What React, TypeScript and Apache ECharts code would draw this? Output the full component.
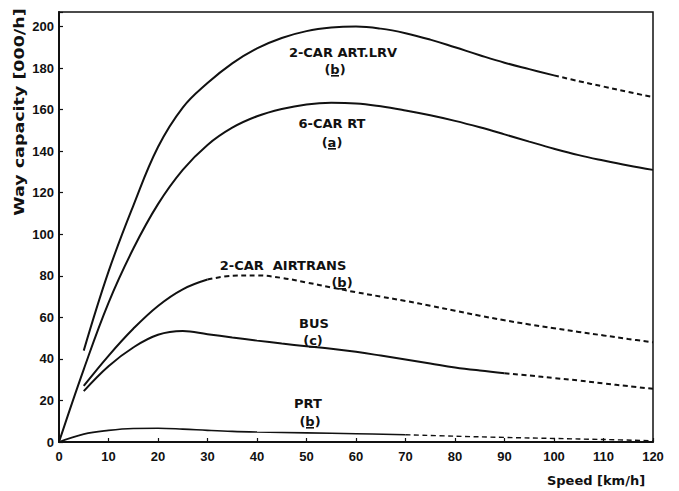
import React, { useEffect, useRef } from "react";
import * as echarts from "echarts";

// Speed [km/h] vs way capacity [000/h]
const lrvSolid: number[][] = [
  [5, 44], [10, 82], [15, 113.7], [20, 142], [25, 161], [30, 172.8], [35, 182.3], [40, 189.5],
  [45, 194.5], [50, 197.8], [55, 199.5], [60, 200], [65, 199], [70, 196.8], [75, 193.7],
  [80, 190], [85, 186.2], [90, 182.6], [95, 179.5], [100, 176.5],
];
const lrvDashed: number[][] = [
  [100, 176.5], [105, 173.7], [110, 171.1], [115, 168.5], [120, 166],
];
const rtSolid: number[][] = [
  [0, 0], [5, 35], [10, 67], [15, 93], [20, 114.5], [25, 131], [30, 143], [35, 151.3],
  [40, 156.8], [45, 160.3], [50, 162.5], [55, 163.3], [60, 163], [65, 161.6], [70, 159.6],
  [75, 157.3], [80, 154.6], [85, 151.5], [90, 148.1], [95, 144.6], [100, 141.2], [105, 138.1],
  [110, 135.5], [115, 133.1], [120, 131],
];
const airtransSolid: number[][] = [
  [5, 27], [10, 41.5], [15, 54.5], [20, 65.5], [25, 73.5], [30, 78.2],
];
const airtransDashed: number[][] = [
  [30, 78.2], [35, 80], [40, 80.2], [45, 79], [50, 76.8], [55, 74.4], [60, 72.1],
  [65, 70], [70, 67.9], [75, 65.6], [80, 63.2], [85, 60.8], [90, 58.6], [95, 56.6],
  [100, 54.8], [105, 53], [110, 51.3], [115, 49.6], [120, 48],
];
const busSolid: number[][] = [
  [5, 24.5], [10, 36.5], [15, 45.5], [20, 51.6], [25, 53.4], [30, 51.9], [35, 50.3],
  [40, 48.8], [45, 47.4], [50, 46.1], [55, 44.9], [60, 43.4], [65, 41.6], [70, 39.7],
  [75, 37.8], [80, 35.9], [85, 34.4], [90, 33.1],
];
const busDashed: number[][] = [
  [90, 33.1], [95, 32], [100, 30.8], [105, 29.6], [110, 28.2], [115, 26.9], [120, 25.6],
];
const prtSolid: number[][] = [
  [0, 0], [5, 3.8], [10, 5.6], [15, 6.5], [20, 6.6], [25, 6.2], [30, 5.6], [35, 5.1],
  [40, 4.8], [50, 4.4], [60, 4], [70, 3.5],
];
const prtDashed: number[][] = [
  [70, 3.5], [80, 2.8], [90, 2.2], [100, 1.7], [110, 1.2], [120, 0.6],
];

const xTicks = { min: 0, max: 120, interval: 10 };
const yTicks = { min: 0, max: 207, interval: 20 };

const INK = "#111";
const FONT_LABEL = 'bold 13px "DejaVu Sans"';

export default function App() {
  const ref = useRef<HTMLDivElement>(null);

  useEffect(() => {
    if (!ref.current) return;
    const chart = echarts.init(ref.current, undefined, { renderer: "svg" });

    const line = (data: number[][], dashed: boolean, width = 2) => ({
      type: "line",
      data,
      smooth: 0.4,
      symbol: "none",
      silent: true,
      lineStyle: {
        color: INK,
        width,
        type: dashed ? [5, 3.5] : "solid",
      },
    });

    const label = (text: string, x: number, y: number) => ({
      type: "text",
      x,
      y,
      style: {
        text,
        font: FONT_LABEL,
        fill: INK,
        textAlign: "center",
        textVerticalAlign: "middle",
      },
    });

    const underline = (x: number, y: number) => ({
      type: "rect",
      shape: { x: x - 4, y, width: 8, height: 1.6 },
      style: { fill: INK },
    });

    chart.setOption({
      animation: false,
      backgroundColor: "#fff",
      grid: {
        left: 59,
        right: 26,
        top: 12,
        bottom: 49,
        show: true,
        borderColor: INK,
        borderWidth: 1.5,
        backgroundColor: "transparent",
      },
      xAxis: {
        type: "value",
        min: xTicks.min,
        max: xTicks.max,
        interval: xTicks.interval,
        axisLine: { show: true, lineStyle: { color: INK, width: 2 } },
        axisTick: { show: true, inside: true, length: 4, lineStyle: { color: INK, width: 1.2 } },
        splitLine: { show: false },
        axisLabel: {
          color: INK,
          fontFamily: "Liberation Sans",
          fontWeight: "bold",
          fontSize: 13,
          margin: 8,
        },
      },
      yAxis: {
        type: "value",
        min: yTicks.min,
        max: yTicks.max,
        interval: yTicks.interval,
        axisLine: { show: true, lineStyle: { color: INK, width: 2 } },
        axisTick: { show: true, inside: true, length: 4, lineStyle: { color: INK, width: 1.2 } },
        splitLine: { show: false },
        axisLabel: {
          color: INK,
          fontFamily: "Liberation Sans",
          fontWeight: "bold",
          fontSize: 13,
          margin: 5,
          formatter: (v: number) => (v % 20 === 0 ? String(v) : ""),
        },
      },
      series: [
        line(lrvSolid, false),
        line(lrvDashed, true),
        line(rtSolid, false),
        line(airtransSolid, false),
        line(airtransDashed, true),
        line(busSolid, false),
        line(busDashed, true),
        line(prtSolid, false, 1.6),
        line(prtDashed, true, 1.4),
      ],
      graphic: [
        {
          type: "text",
          x: 19,
          y: 112,
          rotation: Math.PI / 2,
          scaleX: 1.25,
          style: {
            text: "Way capacity [000/h]",
            font: 'bold 14px "DejaVu Sans"',
            fill: INK,
            textAlign: "center",
            textVerticalAlign: "middle",
          },
        },
        {
          type: "text",
          x: 596,
          y: 480,
          style: {
            text: "Speed [km/h]",
            font: 'bold 13px "DejaVu Sans"',
            fill: INK,
            textAlign: "center",
            textVerticalAlign: "middle",
          },
        },
        label("2-CAR ART.LRV", 343, 52),
        label("(b)", 335, 69),
        underline(335, 75),
        label("6-CAR RT", 332, 123),
        label("(a)", 332, 142),
        underline(332, 148),
        label("2-CAR  AIRTRANS", 283, 265),
        label("(b)", 342, 282),
        underline(342, 288),
        label("BUS", 314, 323),
        label("(c)", 313, 340),
        underline(313, 346),
        label("PRT", 308, 403),
        label("(b)", 310, 421),
        underline(310, 427),
      ],
    });

    return () => chart.dispose();
  }, []);

  return (
    <div
      ref={ref}
      style={{ position: "fixed", left: 0, top: 0, width: 679, height: 491 }}
    />
  );
}
